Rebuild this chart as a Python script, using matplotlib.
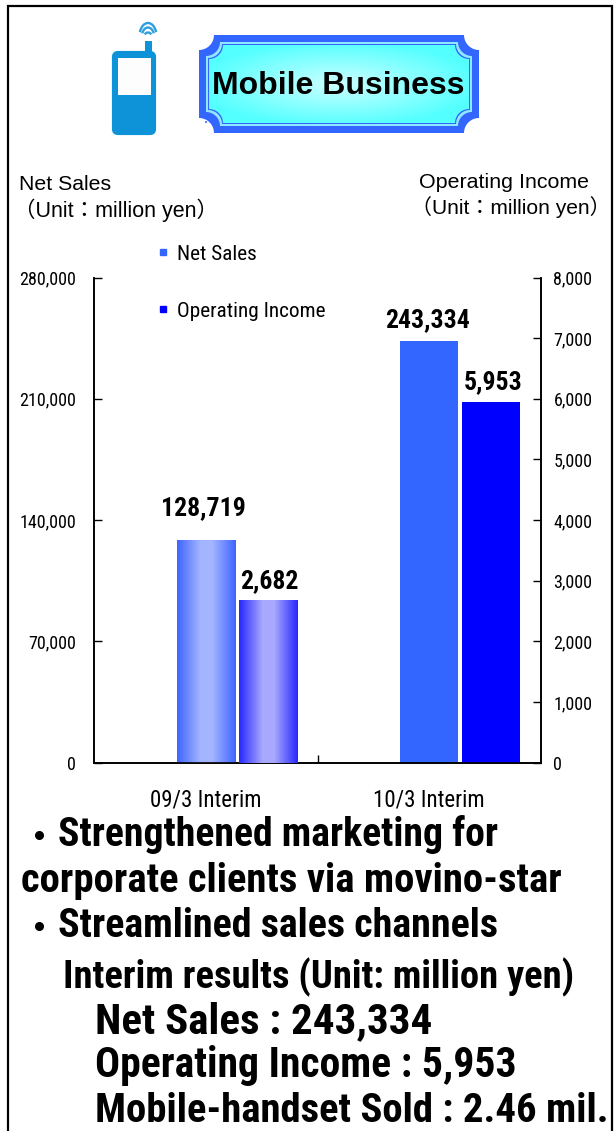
#!/usr/bin/env python3
"""Mobile Business interim results: net sales and operating income bars."""
import matplotlib
matplotlib.use("Agg")
import matplotlib.pyplot as plt
import numpy as np
from matplotlib.lines import Line2D
from matplotlib.patches import Arc, Circle, FancyBboxPatch, PathPatch, Rectangle
from matplotlib.path import Path

W, H = 614, 1131

periods = ["09/3 Interim", "10/3 Interim"]
net_sales = [128719, 243334]
operating_income = [2682, 5953]
sales_ticks = [0, 70000, 140000, 210000, 280000]
income_ticks = [0, 1000, 2000, 3000, 4000, 5000, 6000, 7000, 8000]

notes = [
    (58, 835, "Strengthened marketing for", 28.6),
    (21, 881, "corporate clients via movino-star", 29.3),
    (58, 926, "Streamlined sales channels", 28.8),
    (63, 977, "Interim results (Unit: million yen)", 27.7),
    (95, 1022, "Net Sales : 243,334", 31),
    (95, 1066, "Operating Income : 5,953", 30),
    (95, 1111, "Mobile-handset Sold : 2.46 mil.", 29.3),
]
bullet_rows = [835, 926]

BLUE = "#3366FF"
NAVY = "#0000FF"
CONDENSED = ["Roboto Condensed", "Noto Sans CJK JP", "DejaVu Sans"]
ARIAL = ["Liberation Sans", "Noto Sans CJK JP", "DejaVu Sans"]

fig = plt.figure(figsize=(W / 100, H / 100), dpi=100, facecolor="white")

# page layer in pixel coordinates, y pointing down
page = fig.add_axes([0, 0, 1, 1], zorder=0)
page.set_xlim(0, W)
page.set_ylim(H, 0)
page.axis("off")


def plaque(x0, y0, x1, y1, r):
    """Rectangle with concave quarter-circle corners."""
    t = np.linspace(0, np.pi / 2, 12)
    c, s = r * np.cos(t), r * np.sin(t)
    pts = list(zip(x0 + c[::-1], y0 + s[::-1]))
    pts += list(zip(x1 - c, y0 + s))
    pts += list(zip(x1 - c[::-1], y1 - s[::-1]))
    pts += list(zip(x0 + c, y1 - s))
    pts.append(pts[0])
    return Path(pts)


# page frame, open at the bottom
page.plot([8, 8, 612, 612], [H, 6, 6, H], color="black", lw=1.6, solid_joinstyle="miter")

# handset icon
PHONE = "#0E93D9"
page.add_patch(FancyBboxPatch((114, 53), 40, 80, boxstyle="round,pad=0,rounding_size=4",
                              fc=PHONE, ec=PHONE, lw=3))
page.add_patch(Rectangle((118, 58), 33, 37, fc="#FDFDFD", ec="none"))
page.add_patch(Rectangle((145, 41), 7, 12, fc=PHONE, ec="none"))
for w_arc, h_arc in ((7, 7), (12, 17), (17, 26)):
    page.add_patch(Arc((148, 36), w_arc, h_arc, theta1=205, theta2=335, color="#2E9FDC", lw=1.7))

# title plaque, blue band with a double keyline around the glow
page.add_patch(PathPatch(plaque(199, 35, 479, 133, 15), fc=BLUE, ec="none"))
page.add_patch(PathPatch(plaque(206, 42, 472, 126, 14), fc="#8FE8FF", ec="none"))
page.add_patch(PathPatch(plaque(208, 44, 470, 124, 14), fc=BLUE, ec="none"))
inner = PathPatch(plaque(209, 45, 469, 123, 14), fc="none", ec="none")
page.add_patch(inner)
xx, yy = np.meshgrid(np.linspace(-1, 1, 200), np.linspace(-1, 1, 80))
glow = np.clip(np.sqrt(xx**2 + yy**2) / 1.1, 0, 1)
low, high = np.array([0.80, 1.0, 1.0]), np.array([0.33, 1.0, 1.0])
img = low + (high - low) * glow[..., None]
im = page.imshow(img, extent=(209, 469, 123, 45), aspect="auto", zorder=2)
im.set_clip_path(inner)
page.set_xlim(0, W)
page.set_ylim(H, 0)
page.add_patch(Circle((206, 122), 1, fc=BLUE, ec="none"))
page.text(338, 86, "Mobile Business", family=ARIAL, fontweight="bold", fontsize=23,
          ha="center", va="center", color="black", zorder=3)

# axis captions
page.text(19, 184, "Net Sales", family=ARIAL, fontsize=15.3, va="center")
page.text(14, 210, "（Unit：million yen）", family=ARIAL, fontsize=15.5, va="center", ha="left")
page.text(419, 182, "Operating Income", family=ARIAL, fontsize=15.4, va="center")
page.text(411, 207, "（Unit：million yen）", family=ARIAL, fontsize=15.1, va="center", ha="left")

# chart, net sales on the left scale and operating income on the right
ax = fig.add_axes([94 / W, 1 - 762.5 / H, (541 - 94) / W, (762.5 - 277.5) / H], zorder=2)
ax.patch.set_alpha(0)
ax2 = ax.twinx()

x = np.arange(len(periods))
bar_w = 0.26
shift = 0.277
bars_a = ax.bar(x, net_sales, bar_w, color=BLUE, linewidth=0)
bars_b = ax2.bar(x + shift, operating_income, bar_w, color=NAVY, linewidth=0)


def shade(axis, bar, edge, centre):
    """Horizontal metallic gradient over one bar."""
    t = np.abs(np.linspace(-1, 1, 64))[None, :, None]
    edge, centre = np.array(edge), np.array(centre)
    rgb = centre + (edge - centre) * np.clip(t * 1.25 - 0.25, 0, 1)
    axis.imshow(rgb, aspect="auto", zorder=3,
                extent=(bar.get_x(), bar.get_x() + bar.get_width(), 0, bar.get_height()))


shade(ax, bars_a[0], (0.25, 0.40, 1.0), (0.64, 0.71, 1.0))
shade(ax2, bars_b[0], (0.16, 0.16, 1.0), (0.66, 0.66, 1.0))
ax.set_xlim(-0.5, 1.5)
ax.set_ylim(sales_ticks[0], sales_ticks[-1])
ax2.set_ylim(income_ticks[0], income_ticks[-1])

ax.set_yticks(sales_ticks)
ax.set_yticklabels([f"{v:,}" for v in sales_ticks], family=CONDENSED, fontsize=13)
ax2.set_yticks(income_ticks)
ax2.set_yticklabels([f"{v:,}" for v in income_ticks], family=CONDENSED, fontsize=13)
ax.set_xticks([0.5])
ax.set_xticklabels([""])
ax.tick_params(axis="x", direction="in", length=6, width=1)
ax.tick_params(axis="y", direction="in", length=6, width=1, pad=13)
ax2.tick_params(axis="y", direction="in", length=6, width=1, pad=9)
for a in (ax, ax2):
    a.spines["top"].set_visible(False)
    for s in ("left", "right", "bottom"):
        a.spines[s].set_linewidth(1.2)

for i, label in enumerate(periods):
    ax.annotate(label, (i, 0), xytext=(0, -38), textcoords="offset pixels",
                ha="center", va="center", family=CONDENSED, fontsize=16.5)

# the two net sales labels sit at different heights above their bars
net_lift = (19, 9)
for i, v in enumerate(net_sales):
    ax.annotate(f"{v:,}", (i, v), xytext=(-2, net_lift[i]), textcoords="offset pixels",
                ha="center", va="bottom", family=CONDENSED, fontweight="bold", fontsize=18.5)
for i, v in enumerate(operating_income):
    ax2.annotate(f"{v:,}", (i + shift, v), xytext=(2, 7), textcoords="offset pixels",
                 ha="center", va="bottom", family=CONDENSED, fontweight="bold", fontsize=18.5)

handles = [Line2D([], [], ls="", marker="s", ms=5, color=BLUE),
           Line2D([], [], ls="", marker="s", ms=5, color=NAVY)]
ax2.legend(handles, ["Net Sales", "Operating Income"], loc="upper left",
           bbox_to_anchor=(146 / W, 1 - 234 / H), bbox_transform=fig.transFigure,
           frameon=False, handlelength=0.6, handletextpad=0.37, labelspacing=1.8,
           borderpad=0, prop={"family": CONDENSED, "size": 15.3})

# bullet notes under the chart
for tx, ty, line, size in notes:
    page.text(tx, ty, line, family=CONDENSED, fontweight="bold", fontsize=size,
              va="center", ha="left")
for ty in bullet_rows:
    page.plot([39], [ty], ls="", marker="o", ms=5.5, color="black")

fig.savefig("out.png", dpi=100)
